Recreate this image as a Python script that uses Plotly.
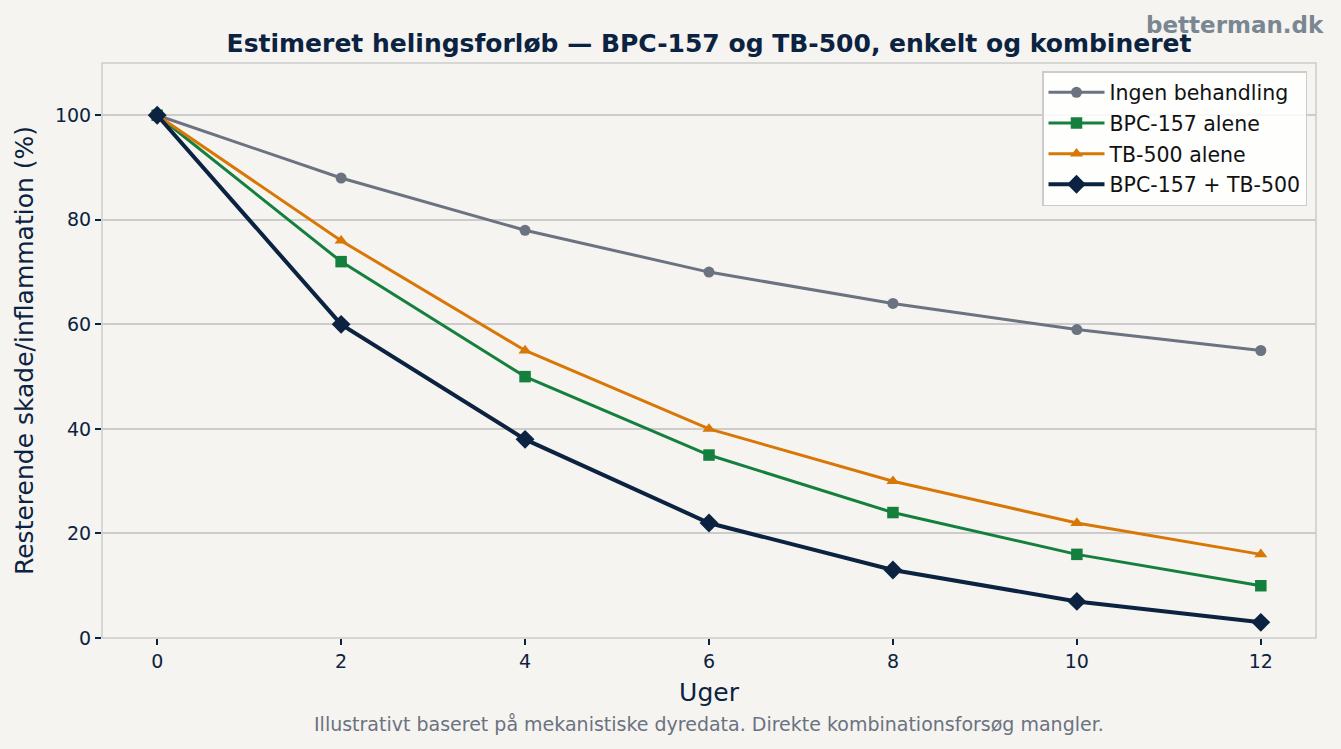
import plotly.graph_objects as go

weeks = [0, 2, 4, 6, 8, 10, 12]
ingen = [100, 88, 78, 70, 64, 59, 55]
bpc = [100, 72, 50, 35, 24, 16, 10]
tb = [100, 76, 55, 40, 30, 22, 16]
combo = [100, 60, 38, 22, 13, 7, 3]

names = ["Ingen behandling", "BPC-157 alene", "TB-500 alene", "BPC-157 + TB-500"]
colors = ["#6b7280", "#15803d", "#d97706", "#0b2340"]
symbols = ["circle", "square", "triangle-up", "diamond"]
msizes = [11, 11.5, 11.5, 14.5]
lwidths = [3, 3, 3, 4]
series = [ingen, bpc, tb, combo]

NAVY = "#0b2340"
BG = "#f5f4f0"
FONT = "DejaVu Sans"

fig = go.Figure()
for i, (n, c, s, ms, lw, y) in enumerate(zip(names, colors, symbols, msizes, lwidths, series)):
    fig.add_trace(go.Scatter(
        x=weeks, y=y, name=n, mode="lines+markers", legendgroup=f"g{i}",
        line=dict(color=c, width=lw),
        marker=dict(symbol=s, size=ms, color=c),
    ))

fig.update_layout(
    width=1341, height=749,
    paper_bgcolor=BG, plot_bgcolor=BG,
    margin=dict(l=102, r=25, t=63, b=111),
    font=dict(family=FONT, color=NAVY, size=19),
    title=dict(text="<b>Estimeret helingsforløb — BPC-157 og TB-500, enkelt og kombineret</b>",
               x=(102 + 1316) / 2 / 1341, xanchor="center", y=1 - 43 / 749, yanchor="middle",
               font=dict(size=25, color=NAVY, family=FONT)),
    showlegend=True,
    legend=dict(x=(1307 - 102) / 1214, xanchor="right", y=1 - (71 - 63) / 575, yanchor="top",
                bgcolor="rgba(255,255,255,0.85)", bordercolor="#cccccc", borderwidth=1.5,
                font=dict(size=20.5, color="#111111", family=FONT),
                itemwidth=56, tracegroupgap=1),
    xaxis=dict(range=[-0.6, 12.6], tickvals=weeks, ticks="outside", ticklen=6, tickwidth=1.5, tickcolor=NAVY,
               showgrid=False, zeroline=False, showline=False,
               tickfont=dict(size=19, color=NAVY),
               title=dict(text="Uger", font=dict(size=25, color=NAVY), standoff=12)),
    yaxis=dict(range=[0, 110], tickvals=[0, 20, 40, 60, 80, 100], ticks="outside", ticklen=6, tickwidth=1.5,
               tickcolor=NAVY, showgrid=True, gridcolor="#cccccc", gridwidth=1.5,
               zeroline=False, showline=False,
               tickfont=dict(size=19, color=NAVY),
               title=dict(text="Resterende skade/inflammation (%)", font=dict(size=25, color=NAVY), standoff=14)),
    shapes=[dict(type="rect", xref="paper", yref="paper", x0=0, x1=1, y0=0, y1=1,
                 line=dict(color="#cccccc", width=1.5), fillcolor="rgba(0,0,0,0)", layer="below")],
    annotations=[
        dict(text="Illustrativt baseret på mekanistiske dyredata. Direkte kombinationsforsøg mangler.",
             xref="paper", yref="paper", x=0.5, y=-(724 - 638) / 575, xanchor="center", yanchor="middle",
             showarrow=False, font=dict(size=19, color="#6b7280", family=FONT)),
        dict(text="<b>betterman.dk</b>", xref="paper", yref="paper",
             x=(1326 - 102) / 1214, y=1 + (63 - 25) / 575, xanchor="right", yanchor="middle",
             showarrow=False, font=dict(size=23, color="#7a8793", family=FONT)),
    ],
)

fig.write_html("out.html")
